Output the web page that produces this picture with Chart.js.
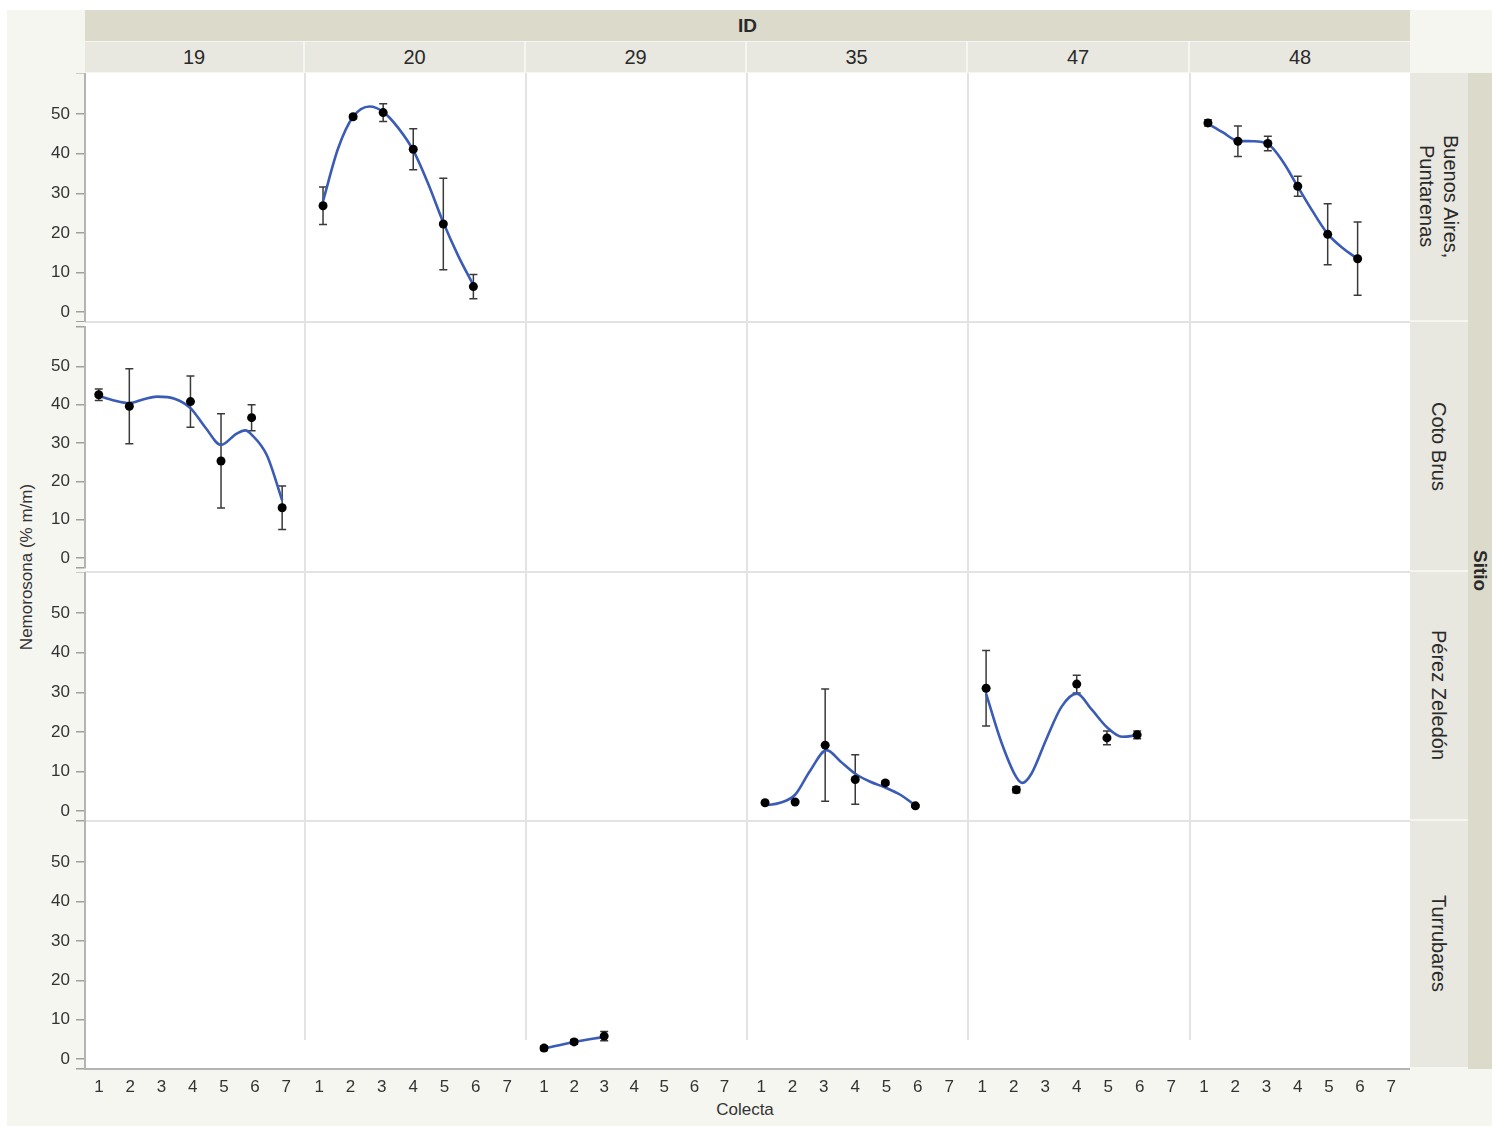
<!DOCTYPE html>
<html lang="es">
<head>
<meta charset="utf-8">
<title>Nemorosona por colecta</title>
<script src="https://cdn.jsdelivr.net/npm/chart.js@4.4.1/dist/chart.umd.min.js"></script>
<style>
  html, body { margin: 0; padding: 0; }
  body {
    position: relative;
    width: 1492px;
    height: 1126px;
    overflow: hidden;
    background: #fff;
    font-family: "Liberation Sans", Arial, sans-serif;
    color: #2a2a2a;
  }
  .caja { position: absolute; box-sizing: border-box; }
  .fondo { left: 7px; top: 10px; width: 1485px; height: 1116px; background: #f6f6f1; }
  .banda-id {
    left: 85px; top: 10px; width: 1325px; height: 31px;
    background: #dcdacb; text-align: center; line-height: 32px;
    font-weight: bold; font-size: 19px;
  }
  .cab-col {
    top: 42px; height: 30px; background: #e8e8e0;
    text-align: center; line-height: 31px; font-size: 20px;
  }
  .zona-graf { left: 85px; top: 73px; width: 1325px; height: 996px; background: #fff; }
  .eje-x { left: 84px; top: 1068px; width: 1326px; height: 2px; background: #b4b4b4; }
  .div-v { width: 2px; background: #e3e3e3; top: 73px; height: 967px; }
  .div-h { left: 85px; width: 1325px; height: 2px; background: #e3e3e3; }
  .cab-fila {
    left: 1410px; width: 58px; background: #e8e8e0;
    display: flex; align-items: center; justify-content: center;
  }
  .cab-fila span {
    writing-mode: vertical-rl; font-size: 20px; line-height: 24px; text-align: center;
  }
  .banda-sitio {
    left: 1468px; top: 73px; width: 24px; height: 996px; background: #dcdacb;
    display: flex; align-items: center; justify-content: center;
  }
  .banda-sitio span { writing-mode: vertical-rl; font-weight: bold; font-size: 19px; }
  .titulo-y {
    left: 27px; top: 567px; transform: translate(-50%, -50%) rotate(-90deg);
    white-space: nowrap; font-size: 17px; color: #333;
  }
  .titulo-x { left: 745px; top: 1100px; transform: translateX(-50%); font-size: 17px; color: #333; }
  canvas { position: absolute; }
</style>
</head>
<body>
<div class="caja fondo"></div>
<div class="caja banda-id">ID</div>
<div class="caja zona-graf"></div>
<div class="caja eje-x"></div>
<div class="caja banda-sitio"><span>Sitio</span></div>
<div class="caja titulo-y">Nemorosona (% m/m)</div>
<div class="caja titulo-x">Colecta</div>

<script>
// Paneles: columnas por ID, filas por sitio
const ids = ['19', '20', '29', '35', '47', '48'];
const sitios = [['Buenos Aires,', 'Puntarenas'], ['Coto Brus'], ['Pérez Zeledón'], ['Turrubares']];
const colectaTicks = [1, 2, 3, 4, 5, 6, 7];
const nemorosonaTicks = [0, 10, 20, 30, 40, 50];

// Buenos Aires, Puntarenas - ID 20
const ba20Colecta = [1, 2, 3, 4, 5, 6];
const ba20Media = [26.8, 50.1, 51.2, 41.6, 22.0, 5.6];
const ba20Error = [4.9, 0.5, 2.3, 5.4, 12.0, 3.2];
const ba20CurvaX = [1, 1.5, 2, 2.55, 3, 3.5, 4, 4.5, 5, 5.5, 6];
const ba20CurvaY = [28.0, 41.8, 50.1, 52.8, 51.4, 47.2, 41.3, 32.5, 22.4, 13.6, 6.0];

// Buenos Aires, Puntarenas - ID 48
const ba48Colecta = [1, 2, 3, 4, 5, 6];
const ba48Media = [48.5, 43.7, 43.1, 31.9, 19.3, 12.9];
const ba48Error = [0.8, 4.0, 1.9, 2.6, 8.0, 9.6];
const ba48CurvaX = [1, 1.5, 2, 2.5, 3, 3.5, 4, 4.5, 5, 5.5, 6];
const ba48CurvaY = [48.3, 46.0, 43.8, 43.7, 43.0, 38.4, 31.8, 25.3, 19.4, 15.7, 12.9];

// Coto Brus - ID 19
const cb19Colecta = [1, 2, 4, 5, 6, 7];
const cb19Media = [42.6, 39.6, 40.8, 25.3, 36.6, 13.1];
const cb19Error = [1.5, 9.8, 6.7, 12.3, 3.4, 5.7];
const cb19CurvaX = [1, 1.5, 2, 2.5, 2.9, 3.5, 4, 4.5, 5, 5.5, 5.8, 6, 6.5, 7];
const cb19CurvaY = [42.3, 41.1, 40.4, 41.5, 42.1, 41.5, 39.1, 33.9, 29.5, 32.4, 33.3, 32.2, 26.8, 15.0];

// Pérez Zeledón - ID 35
const pz35Colecta = [1, 2, 3, 4, 5, 6];
const pz35Media = [1.1, 1.3, 16.2, 7.2, 6.3, 0.3];
const pz35Error = [0.3, 0.3, 14.7, 6.5, 0.5, 0.3];
const pz35CurvaX = [1, 1.5, 2, 2.5, 3.05, 3.5, 4, 4.5, 5, 5.5, 6];
const pz35CurvaY = [0.4, 1.1, 3.2, 9.5, 14.9, 12.0, 8.7, 6.6, 5.1, 3.2, 0.4];

// Pérez Zeledón - ID 47
const pz47Colecta = [1, 2, 4, 5, 6];
const pz47Media = [31.1, 4.5, 32.2, 18.1, 18.9];
const pz47Error = [9.9, 0.8, 2.3, 1.8, 1.0];
const pz47CurvaX = [1, 1.5, 2, 2.2, 2.5, 3, 3.5, 4, 4.5, 5, 5.5, 6];
const pz47CurvaY = [29.7, 17.1, 7.8, 6.3, 8.7, 17.9, 26.3, 29.7, 25.5, 20.9, 18.4, 18.8];

// Turrubares - ID 29
const tu29Colecta = [1, 2, 3];
const tu29Media = [2.9, 4.5, 6.0];
const tu29Error = [0.6, 0.6, 1.2];
const tu29CurvaX = [1, 2, 3];
const tu29CurvaY = [2.8, 4.5, 5.8];

// fila-columna -> serie
const series = {
    '0-1': [ba20Colecta, ba20Media, ba20Error, ba20CurvaX, ba20CurvaY],
    '0-5': [ba48Colecta, ba48Media, ba48Error, ba48CurvaX, ba48CurvaY],
    '1-0': [cb19Colecta, cb19Media, cb19Error, cb19CurvaX, cb19CurvaY],
    '2-3': [pz35Colecta, pz35Media, pz35Error, pz35CurvaX, pz35CurvaY],
    '2-4': [pz47Colecta, pz47Media, pz47Error, pz47CurvaX, pz47CurvaY],
    '3-2': [tu29Colecta, tu29Media, tu29Error, tu29CurvaX, tu29CurvaY]
};

// bordes de los paneles en la página
const bordesX = [85, 305, 526, 747, 968, 1190, 1410];
const bordesY = [73, 322, 572, 821, 1069];
const X_MIN = 0.55, X_MAX = 7.6;
const Y_MIN = -2.5, Y_MAX = 60.4;

Chart.defaults.font.family = '"Liberation Sans", Arial, sans-serif';
Chart.defaults.font.size = 17;
Chart.defaults.color = '#333';

// barras de error (media ± error) debajo de la curva y los puntos
const barrasError = {
    id: 'barrasError',
    beforeDatasetsDraw(chart) {
        const { ctx, scales: { x, y } } = chart;
        chart.data.datasets.forEach(ds => {
            if (!ds.errores) return;
            ctx.save();
            ctx.strokeStyle = '#3a3a3a';
            ctx.lineWidth = 1.5;
            ds.data.forEach((p, i) => {
                const e = ds.errores[i];
                const px = x.getPixelForValue(p.x);
                const arriba = y.getPixelForValue(p.y + e);
                const abajo = y.getPixelForValue(p.y - e);
                ctx.beginPath();
                ctx.moveTo(px, arriba); ctx.lineTo(px, abajo);
                ctx.moveTo(px - 4, arriba); ctx.lineTo(px + 4, arriba);
                ctx.moveTo(px - 4, abajo); ctx.lineTo(px + 4, abajo);
                ctx.stroke();
            });
            ctx.restore();
        });
    }
};

function crearDivs() {
    const body = document.body;
    ids.forEach((id, c) => {
        const d = document.createElement('div');
        d.className = 'caja cab-col';
        d.style.left = bordesX[c] + 'px';
        d.style.width = (bordesX[c + 1] - bordesX[c] - (c < ids.length - 1 ? 2 : 0)) + 'px';
        d.textContent = id;
        body.appendChild(d);
    });
    for (let c = 1; c < ids.length; c++) {
        const d = document.createElement('div');
        d.className = 'caja div-v';
        d.style.left = (bordesX[c] - 1) + 'px';
        body.appendChild(d);
    }
    for (let r = 1; r < sitios.length; r++) {
        const d = document.createElement('div');
        d.className = 'caja div-h';
        d.style.top = (bordesY[r] - 1) + 'px';
        body.appendChild(d);
    }
    sitios.forEach((lineas, r) => {
        const d = document.createElement('div');
        d.className = 'caja cab-fila';
        d.style.top = bordesY[r] + 'px';
        d.style.height = (bordesY[r + 1] - bordesY[r] - 2) + 'px';
        const s = document.createElement('span');
        s.innerHTML = lineas.join('<br>');
        d.appendChild(s);
        body.appendChild(d);
    });
}

function crearPanel(r, c) {
    const conEjeY = c === 0;
    const conEjeX = r === sitios.length - 1;
    const anchoEjeY = 65, altoEjeX = 30;

    const canvas = document.createElement('canvas');
    const izq = conEjeY ? bordesX[0] - anchoEjeY : bordesX[c];
    const ancho = bordesX[c + 1] - izq;
    const alto = bordesY[r + 1] - bordesY[r] + (conEjeX ? altoEjeX : 0);
    canvas.width = ancho;
    canvas.height = alto;
    canvas.style.left = izq + 'px';
    canvas.style.top = bordesY[r] + 'px';
    document.body.appendChild(canvas);

    const datasets = [];
    const s = series[r + '-' + c];
    if (s) {
        const [colecta, media, error, curvaX, curvaY] = s;
        datasets.push({
            type: 'scatter',
            data: colecta.map((x, i) => ({ x, y: media[i] })),
            errores: error,
            pointRadius: 4.5,
            pointBackgroundColor: '#000',
            pointBorderWidth: 0,
            order: 0
        });
        datasets.push({
            type: 'line',
            data: curvaX.map((x, i) => ({ x, y: curvaY[i] })),
            borderColor: '#3a5cb6',
            borderWidth: 2.6,
            pointRadius: 0,
            fill: false,
            cubicInterpolationMode: 'monotone',
            order: 1
        });
    }

    new Chart(canvas, {
        type: 'scatter',
        data: { datasets },
        options: {
            responsive: false,
            animation: false,
            events: [],
            layout: { padding: 0 },
            plugins: { legend: { display: false }, tooltip: { enabled: false } },
            scales: {
                x: {
                    type: 'linear',
                    min: X_MIN,
                    max: X_MAX,
                    display: conEjeX,
                    afterBuildTicks: sc => { sc.ticks = colectaTicks.map(v => ({ value: v })); },
                    afterFit: sc => {
                        sc.height = conEjeX ? altoEjeX : 0;
                        sc.paddingLeft = 0;
                        sc.paddingRight = 0;
                    },
                    grid: { display: false, drawTicks: false },
                    border: { display: true, color: '#b4b4b4', width: 2 },
                    ticks: { autoSkip: false, maxRotation: 0, padding: 8, color: '#333' }
                },
                y: {
                    type: 'linear',
                    min: Y_MIN,
                    max: Y_MAX,
                    display: conEjeY,
                    afterBuildTicks: sc => {
                        sc.ticks = [Y_MIN, ...nemorosonaTicks, Y_MAX].map(v => ({ value: v }));
                    },
                    afterFit: sc => {
                        sc.width = conEjeY ? anchoEjeY : 0;
                        sc.paddingTop = 0;
                        sc.paddingBottom = 0;
                    },
                    grid: { display: true, drawOnChartArea: false, drawTicks: true, tickLength: 9, tickColor: '#a0a0a0', lineWidth: 1.5 },
                    border: { display: true, color: '#b4b4b4', width: 2 },
                    ticks: {
                        autoSkip: false,
                        padding: 6,
                        color: '#333',
                        callback: v => nemorosonaTicks.includes(v) ? String(v) : ''
                    }
                }
            }
        },
        plugins: [barrasError]
    });
}

crearDivs();
for (let r = 0; r < sitios.length; r++) {
    for (let c = 0; c < ids.length; c++) {
        crearPanel(r, c);
    }
}
</script>
</body>
</html>
